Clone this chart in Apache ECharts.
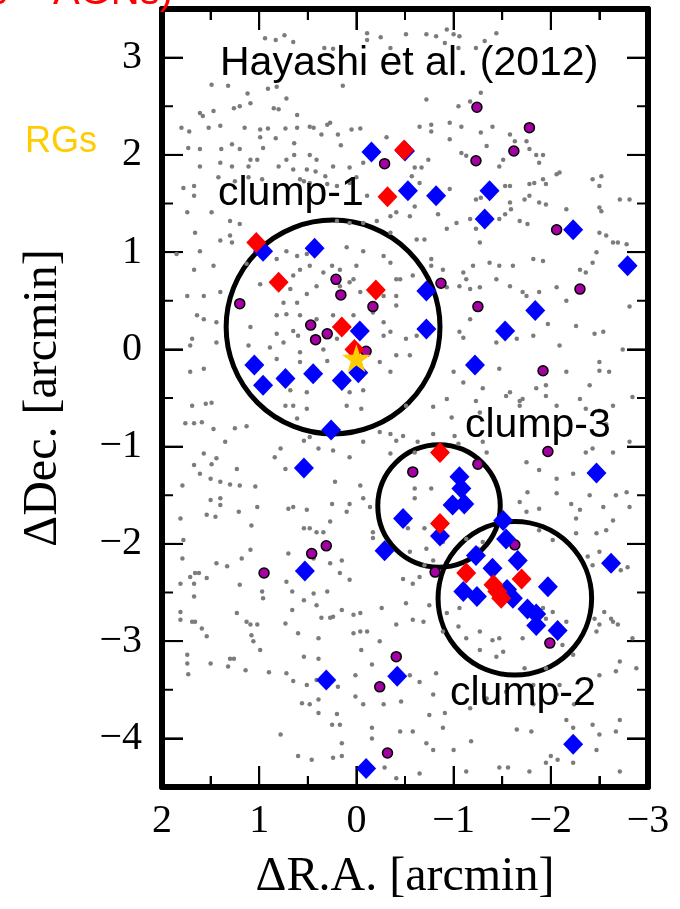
<!DOCTYPE html>
<html><head><meta charset="utf-8">
<script src="https://cdn.jsdelivr.net/npm/echarts@6/dist/echarts.min.js"></script>
<style>html,body{margin:0;padding:0;background:#fff}#c{width:680px;height:909px}</style>
</head><body><div id="c"></div>
<script>
// ---- data (arcmin) ----
const xTicks = [2, 1, 0, -1, -2, -3];
const xHalfTicks = [1.5, 0.5, -0.5, -1.5, -2.5];
const yTicks = [-4, -3, -2, -1, 0, 1, 2, 3];
const yHalfTicks = [-3.5, -2.5, -1.5, -0.5, 0.5, 1.5, 2.5];
const xRange = [-3, 2];
const yRange = [-4.5, 3.5];

const fieldGalaxies = [
[0.94,3.20],[0.83,3.18],[0.74,3.23],[0.65,3.16],[0.33,3.10],[0.24,3.09],[-0.11,3.25],[-0.11,3.18],[-0.25,3.21],[-0.35,3.10],
[1.49,2.72],[1.32,2.71],[1.12,2.63],[0.91,2.68],[0.82,2.70],[0.72,2.58],[0.14,2.71],[1.09,2.53],[1.20,2.50],[1.26,2.48],
[1.47,2.45],[1.61,2.43],[1.58,2.40],[0.85,2.48],[0.80,2.47],[0.61,2.41],[0.27,2.33],[0.30,2.31],[0.48,2.29],[0.44,2.28],
[1.80,2.28],[1.72,2.24],[1.52,2.28],[1.40,2.30],[1.15,2.28],[0.99,2.26],[0.91,2.27],[0.73,2.27],[0.61,2.28],[0.99,2.18],
[0.83,2.17],[0.64,2.12],[0.36,2.21],[0.05,2.26],[-0.04,2.27],[0.19,2.21],[-0.31,2.18],[1.73,2.07],[1.61,2.06],[1.39,2.06],
[1.28,2.11],[1.20,2.06],[0.96,2.07],[1.09,1.95],[1.02,1.95],[0.72,1.95],[0.64,2.00],[0.48,2.00],[0.41,1.95],[0.24,1.88],
[0.16,2.10],[1.61,1.88],[1.40,1.92],[1.28,1.88],[1.11,1.88],[0.80,1.88],[0.65,1.85],[0.51,1.85],[0.42,1.83],[0.32,1.78],
[0.07,1.87],[-0.07,1.92],[1.78,1.66],[1.67,1.68],[1.42,1.77],[1.25,1.73],[1.11,1.77],[0.97,1.75],[0.58,1.75],[0.54,1.73],
[0.48,1.71],[0.30,1.70],[0.20,1.68],[0.07,1.71],[0.00,1.77],[-0.11,1.58],[1.67,1.58],[1.74,1.41],[1.49,1.41],[1.30,1.32],
[1.20,1.29],[1.66,1.20],[1.40,1.12],[1.28,1.10],[0.20,1.32],[0.07,1.30],[-0.07,1.30],[-0.21,1.32],[-0.35,1.37],[-0.35,1.20],
[-0.41,1.41],[1.85,0.98],[1.61,1.01],[1.30,1.17],[0.72,1.01],[0.61,0.96],[0.51,0.98],[0.82,0.93],[0.10,1.05],[-0.07,1.01],
[-0.28,0.96],[1.67,0.82],[1.47,0.86],[1.13,0.88],[0.58,0.82],[0.48,0.86],[0.34,0.79],[0.25,0.86],[0.17,0.82],[0.00,0.86],
[-0.35,0.89],[0.65,0.76],[0.03,0.72],[-0.41,0.72],[1.74,0.55],[1.57,0.55],[1.40,0.59],[0.99,0.67],[0.68,0.62],[0.51,0.57],
[0.41,0.65],[0.17,0.65],[0.07,0.69],[-0.04,0.59],[-0.28,0.55],[-0.41,0.55],[0.75,0.48],[0.61,0.48],[1.64,0.35],[1.57,0.31],
[1.44,0.28],[1.09,0.23],[0.82,0.35],[0.72,0.36],[0.58,0.35],[0.82,0.16],[0.65,0.19],[0.60,0.14],[-0.28,0.28],[-0.35,0.18],
[0.41,0.31],[0.24,0.35],[0.03,0.35],[-0.17,0.38],[-0.41,0.45],[1.69,0.11],[1.71,0.04],[1.44,0.07],[1.11,0.04],[0.89,0.02],
[0.75,0.07],[0.58,-0.03],[0.34,0.00],[0.20,0.11],[-0.28,0.14],[-0.41,-0.06],[1.71,-0.23],[1.57,-0.20],[0.82,-0.10],[0.58,-0.13],
[0.30,-0.12],[-0.24,-0.13],[-0.35,-0.23],[-0.07,-0.42],[0.07,-0.44],[0.51,-0.44],[0.68,-0.42],
[-0.51,3.24],[-0.72,3.24],[-0.82,3.22],[-0.93,3.29],[-1.00,3.24],[-1.06,3.22],[-0.91,3.15],[-1.32,3.17],[-1.44,3.25],[-1.05,3.10],
[-1.23,3.10],[-0.72,2.57],[-1.05,2.50],[-1.17,2.55],[-1.28,2.64],[-0.65,2.29],[-0.77,2.31],[-0.77,2.24],[-0.96,2.33],[-1.08,2.29],
[-0.96,2.16],[-1.28,2.23],[-1.40,2.29],[-1.58,2.21],[-1.63,2.14],[-1.75,2.14],[-1.78,2.06],[-1.85,2.00],[-1.92,2.00],[-1.08,2.02],
[-1.13,1.99],[-1.34,2.09],[-0.60,1.87],[-0.67,1.87],[-0.74,1.95],[-1.51,1.95],[-1.47,1.88],[-1.88,1.92],[-2.06,1.80],[-2.09,1.82],
[-1.78,1.70],[-1.83,1.71],[-1.92,1.75],[-1.95,1.70],[-1.88,1.51],[-2.43,1.75],[-2.52,1.78],[-2.50,1.68],[-2.71,1.54],[-2.81,1.54],
[-0.57,1.78],[-0.65,1.71],[-0.96,1.65],[-1.53,1.68],[-1.58,1.68],[-1.23,1.54],[-1.28,1.56],[-1.58,1.51],[-1.59,1.44],[-1.47,1.34],
[-1.73,1.54],[-1.78,1.58],[-1.95,1.49],[-2.16,1.44],[-0.60,1.47],[-0.84,1.39],[-0.93,1.24],[-1.03,1.30],[-1.17,1.34],[-1.23,1.24],
[-1.53,1.39],[-1.68,1.32],[-1.76,1.29],[-1.27,1.10],[-0.70,1.13],[-0.62,1.13],[-0.55,1.37],[-2.50,1.46],[-2.52,1.42],[-2.50,1.20],
[-2.57,1.17],[-2.64,1.10],[-2.69,1.10],[-2.78,1.08],[-2.47,1.00],[-0.77,0.93],[-0.77,0.86],[-0.89,0.82],[-1.10,0.79],[-1.20,0.86],
[-1.37,0.89],[-1.47,0.86],[-1.61,0.86],[-1.82,0.93],[-1.92,0.91],[-2.30,0.82],[-2.36,0.79],[-2.43,0.89],[-0.45,0.72],[-0.58,0.76],
[-0.93,0.64],[-1.06,0.65],[-1.13,0.72],[-1.17,0.62],[-1.27,0.64],[-1.44,0.72],[-1.58,0.65],[-1.71,0.59],[-1.75,0.55],[-1.88,0.59],
[-2.06,0.64],[-1.85,0.41],[-2.16,0.50],[-2.81,0.44],[-0.62,0.14],[-0.51,0.11],[-1.06,0.18],[-1.10,0.12],[-1.17,0.31],[-1.44,0.07],
[-1.65,0.11],[-1.82,0.14],[-1.97,0.26],[-2.09,0.04],[-2.26,0.24],[-2.45,0.16],[-2.54,0.18],[-2.74,0.00],[-0.55,-0.06],[-1.00,-0.23],
[-1.10,-0.34],[-1.30,-0.40],[-1.47,-0.20],[-1.58,-0.44],[-1.85,-0.40],[-1.95,-0.37],[-2.16,-0.23],[-2.40,-0.37],[-2.50,-0.13],[-2.50,-0.22],
[-2.60,-0.23],
[1.69,-0.58],[1.55,-0.56],[1.49,-0.55],[1.76,-0.76],[1.67,-0.76],[1.59,-0.75],[1.47,-0.82],[1.35,-0.95],[1.25,-0.81],[1.13,-0.79],
[0.73,-0.58],[0.65,-0.58],[0.51,-0.61],[0.61,-0.71],[0.54,-0.94],[0.48,-0.90],[0.39,-1.02],[0.24,-1.04],[0.10,-0.58],[-0.05,-0.61],
[0.07,-1.11],[-0.07,-0.95],[-0.24,-0.85],[-0.35,-0.87],[-0.41,-0.94],[-0.35,-1.07],[1.57,-1.07],[1.49,-1.18],[1.44,-1.12],[1.67,-1.19],
[1.61,-1.28],[1.50,-1.33],[1.40,-1.36],[1.30,-1.39],[1.20,-1.40],[1.23,-1.23],[1.79,-1.40],[1.04,-1.41],[0.84,-1.11],[0.73,-1.23],
[0.78,-1.02],[0.22,-1.36],[-0.04,-1.40],[1.50,-1.55],[1.40,-1.53],[1.40,-1.60],[1.21,-1.67],[1.02,-1.62],[1.54,-1.70],[1.45,-1.72],
[1.81,-1.74],[1.78,-1.96],[0.70,-1.64],[0.65,-1.62],[0.51,-1.65],[0.25,-1.59],[0.07,-1.59],[0.10,-1.67],[-0.07,-1.53],[-0.14,-1.62],
[1.08,-1.81],[0.54,-1.84],[0.41,-1.88],[0.48,-1.84],[0.27,-1.77],[0.34,-1.88],[-0.17,-1.88],[-0.17,-1.94],[1.79,-2.15],[1.66,-2.30],
[1.71,-2.34],[1.62,-2.30],[1.54,-2.35],[1.81,-2.41],[1.67,-2.41],[1.44,-2.20],[1.33,-2.23],[1.09,-2.06],[1.18,-2.15],[0.97,-2.49],
[0.96,-2.56],[1.20,-2.42],[0.72,-2.39],[0.70,-2.10],[0.44,-2.15],[0.27,-2.20],[0.15,-2.17],[0.17,-2.30],[0.07,-2.37],[1.67,-2.54],
[0.66,-2.49],[0.54,-2.58],[0.44,-2.51],[0.30,-2.49],[0.41,-2.63],[0.66,-2.68],[0.36,-2.76],[0.27,-2.76],[0.24,-2.75],[0.15,-2.68],
[0.03,-2.73],[-0.04,-2.71],[-0.04,-2.90],[0.03,-2.92],[-0.11,-2.90],[-0.41,-2.83],[-0.26,-2.66],[1.81,-2.70],[1.81,-2.78],[1.69,-2.80],
[1.66,-2.80],[1.59,-2.87],[1.54,-2.95],[1.23,-2.71],[1.13,-2.80],[1.09,-2.83],[1.02,-2.83],[1.08,-2.94],[1.06,-3.00],[0.99,-3.09],
[0.73,-2.82],[0.60,-2.92],[0.39,-2.97],[1.26,-3.18],[1.30,-3.18],[1.50,-3.23],[1.74,-3.14],[1.74,-3.23],[1.73,-3.34],[1.32,-3.26],
[1.14,-3.30],[0.90,-3.32],[0.72,-3.33],[0.54,-3.16],[0.39,-3.18],[0.01,-3.35],[-0.05,-3.09],[-0.16,-3.24],[-0.24,-3.00],[0.51,-3.45],
[0.65,-3.41],[0.41,-3.40],[0.19,-3.47],[0.56,-3.64],[0.48,-3.65],[0.39,-3.60],[0.39,-3.74],[0.20,-3.75],[0.01,-3.57],[-0.07,-3.65],
[-0.28,-3.65],[0.25,-3.86],[0.17,-3.86],[0.15,-4.05],[-0.16,-3.89],[-0.16,-4.00],[-0.45,-3.93],[0.78,-3.96],[0.60,-4.18],[0.46,-4.22],
[0.24,-4.20],[0.15,-4.18],[-0.29,-4.30],[-0.41,-4.41],
[-0.51,-0.58],[-0.79,-0.59],[-0.93,-0.51],[-0.98,-0.70],[-1.23,-0.53],[-1.27,-0.65],[-1.54,-0.48],[-1.71,-0.51],[-0.48,-0.89],[-0.63,-0.95],
[-0.60,-1.06],[-0.79,-0.87],[-1.01,-0.89],[-1.05,-0.97],[-1.34,-1.06],[-1.30,-0.95],[-1.68,-0.58],[-1.68,-0.53],[-1.95,-0.48],[-2.06,-0.58],
[-2.30,-0.51],[-2.36,-0.61],[-2.50,-0.63],[-2.64,-0.58],[-2.84,-0.49],[-2.57,-0.77],[-2.36,-1.06],[-2.43,-1.02],[-2.64,-1.06],[-2.81,-0.95],
[-1.75,-1.16],[-1.88,-1.24],[-2.23,-1.28],[-2.06,-1.33],[-2.06,-1.48],[-1.76,-1.47],[-1.68,-1.57],[-1.75,-1.67],[-1.88,-1.64],[-2.21,-1.59],
[-2.30,-1.65],[-2.26,-1.74],[-2.40,-1.50],[-2.54,-1.62],[-2.67,-1.50],[-2.78,-1.47],[-2.81,-1.62],[-2.47,-1.89],[-2.26,-1.89],[-2.02,-1.96],
[-1.88,-1.86],[-2.38,-2.13],[-2.43,-2.22],[-2.72,-2.27],[-2.79,-2.24],[-2.57,-1.86],[-2.64,-1.76],[-2.50,-2.08],[-0.60,-1.43],[-0.77,-1.43],
[-0.60,-1.53],[-0.53,-1.84],[-0.70,-1.84],[-0.72,-2.05],[-0.55,-2.08],[-0.70,-2.22],[-0.79,-2.17],[-0.89,-1.98],[-1.13,-1.95],[-1.30,-1.98],
[-1.25,-2.05],[-1.40,-2.20],[-0.48,-2.36],[-0.58,-2.41],[-0.65,-2.34],[-0.51,-2.61],[-0.75,-2.63],[-0.58,-2.78],[-0.69,-2.80],[-0.93,-2.71],
[-1.06,-2.66],[-0.89,-2.90],[-1.05,-2.85],[-1.13,-2.97],[-1.27,-2.90],[-1.40,-2.99],[-1.47,-2.97],[-1.27,-3.09],[-1.44,-3.16],[-1.51,-3.11],
[-1.71,-2.97],[-1.82,-2.87],[-1.95,-2.77],[-1.92,-2.66],[-2.02,-2.70],[-2.16,-2.80],[-2.12,-3.04],[-2.23,-3.14],[-2.45,-2.77],[-2.50,-2.83],
[-2.47,-2.90],[-2.55,-2.70],[-2.62,-2.77],[-2.64,-2.80],[-2.69,-2.83],[-2.84,-2.97],[-2.50,-3.35],[-2.67,-3.31],[-2.71,-3.21],[-2.88,-3.28],
[-0.65,-3.42],[-0.79,-3.55],[-0.55,-3.35],[-0.82,-3.33],[-0.46,-3.62],[-0.75,-3.76],[-0.91,-3.74],[-1.17,-3.69],[-1.34,-3.59],[-1.54,-3.52],
[-1.73,-3.28],[-1.82,-3.45],[-1.95,-3.28],[-2.09,-3.45],[-0.58,-3.93],[-0.89,-3.89],[-0.72,-4.05],[-1.00,-4.12],[-1.18,-4.03],[-1.65,-3.91],
[-1.80,-3.93],[-1.82,-3.65],[-2.06,-3.55],[-2.16,-3.81],[-2.23,-3.89],[-2.24,-3.65],[-2.43,-3.86],[-2.47,-4.12],[-2.50,-3.96],[-2.67,-3.93],
[-2.71,-3.81],[-2.71,-4.34],[-2.23,-4.25],[-2.07,-4.22],[-2.00,-4.18],[-1.95,-4.25],[-1.78,-4.34],[-1.47,-4.30],[-1.56,-4.30],[-1.13,-4.34],
[-0.65,-4.36],[-0.79,-4.12]
];

const blueDiamonds = [
[-0.155,2.03],[-0.50,2.04],[-0.53,1.63],[-0.82,1.58],[-1.37,1.63],[-1.32,1.34],[-2.23,1.23],[-2.79,0.86],[-1.84,0.40],[-1.53,0.19],
[-1.22,-0.16],[-0.72,0.60],[-0.72,0.21],[0.43,1.04],[0.96,1.01],[-0.035,0.19],[-0.02,-0.24],[1.05,-0.16],[0.96,-0.37],[0.73,-0.30],
[0.445,-0.25],[0.15,-0.32],[0.26,-0.83],[0.54,-1.22],[-0.48,-1.74],[-0.29,-2.07],[0.53,-2.28],[0.31,-3.40],[-0.42,-3.36],[-0.10,-4.31],
[-2.23,-4.06],[-1.06,-1.31],[-1.08,-1.43],[-0.99,-1.60],[-1.11,-1.59],[-0.86,-1.92],[-1.51,-1.76],[-1.54,-1.95],[-1.23,-2.12],[-1.40,-2.25],
[-1.66,-2.17],[-1.10,-2.49],[-1.24,-2.54],[-1.61,-2.56],[-1.97,-2.44],[-1.76,-2.67],[-1.85,-2.84],[-2.07,-2.89],[-2.62,-2.20],[-2.47,-1.27],
[-1.85,-2.72],[-1.55,-2.47]
];

const redDiamonds = [
[1.03,1.10],[0.80,0.69],[-0.32,1.57],[-0.49,2.05],[-0.20,0.61],[0.15,0.23],[0.02,0.00],[-0.86,-1.06],[-0.86,-1.79],[-1.13,-2.30],
[-1.41,-2.42],[-1.49,-2.56],[-1.70,-2.36],[-1.45,-2.49]
];

const purpleCircles = [
[-0.29,1.91],[0.21,0.72],[0.16,0.56],[1.20,0.47],[-0.17,0.44],[0.47,0.25],[0.30,0.16],[0.42,0.10],[-0.10,-0.02],[-1.24,2.49],
[-1.78,2.28],[-1.62,2.04],[-1.23,1.94],[-2.06,1.23],[-0.87,0.68],[-2.30,0.62],[-1.25,0.44],[-1.92,-0.22],[0.31,-2.02],[0.46,-2.10],
[0.95,-2.30],[-0.41,-3.16],[-0.24,-3.47],[-0.32,-4.15],[-0.58,-1.26],[-1.25,-1.18],[-1.97,-1.05],[-1.63,-2.01],[-0.81,-2.29],[-1.99,-3.02]
];

const radioGalaxy = [[0.0, -0.09]];

// clumps: [centre RA, centre Dec, radius]
const clumps = [[0.24, 0.23, 1.10], [-0.85, -1.61, 0.63], [-1.63, -2.56, 0.79]];

const fmt = v => String(v).replace('-', '\u2212');
const serif = 'Liberation Serif';

// tick tables built from the tick arrays: [value, isMajor]
const xTickData = xTicks.map(v => [v, 1]).concat(xHalfTicks.map(v => [v, 0]));
const yTickData = yTicks.map(v => [v, 1]).concat(yHalfTicks.map(v => [v, 0]));

function xAx(pos, labels) {
  return {
    type: 'value', min: xRange[0], max: xRange[1], interval: 1, inverse: true, position: pos,
    axisLine: {show: true, onZero: false, lineStyle: {color: '#000', width: 6}},
    splitLine: {show: false},
    axisTick: {show: true, inside: true, length: 21, lineStyle: {color: '#000', width: 2}},
    minorTick: {show: true, splitNumber: 2, length: 11, lineStyle: {color: '#000', width: 2}},
    axisLabel: labels ? {show: true, formatter: fmt, fontFamily: serif, fontSize: 40, color: '#000', margin: 14} : {show: false},
    name: labels ? '\u0394R.A. [arcmin]' : null, nameLocation: 'middle', nameGap: 66,
    nameTextStyle: {fontFamily: serif, fontSize: 48, color: '#000'}
  };
}
function yAx(pos, labels) {
  return {
    type: 'value', min: yRange[0], max: yRange[1], position: pos,
    axisLine: {show: true, onZero: false, lineStyle: {color: '#000', width: 6}},
    splitLine: {show: false},
    axisTick: {show: true, inside: true, length: 21, lineStyle: {color: '#000', width: 2}, customValues: yTicks},
    axisLabel: labels ? {show: true, customValues: yTicks, formatter: fmt, fontFamily: serif, fontSize: 40, color: '#000', margin: 20} : {show: false},
    name: labels ? '\u0394Dec. [arcmin]' : null, nameLocation: 'middle', nameGap: 95, nameRotate: 90,
    nameTextStyle: {fontFamily: serif, fontSize: 48, color: '#000'}
  };
}

// one custom series per frame side; each tick is a single line element
function tickSeries(data, side) {
  return {
    type: 'custom', coordinateSystem: 'cartesian2d', xAxisIndex: 0, yAxisIndex: 0,
    data: data, clip: false,
    renderItem: function (params, api) {
      const v = api.value(0);
      const len = api.value(1) > 0.5 ? 21 : 11;
      let p, x2, y2;
      if (side === 'bottom') { p = api.coord([v, yRange[0]]); x2 = p[0]; y2 = p[1] - len; }
      else if (side === 'top') { p = api.coord([v, yRange[1]]); x2 = p[0]; y2 = p[1] + len; }
      else if (side === 'left') { p = api.coord([xRange[1], v]); x2 = p[0] + len; y2 = p[1]; }
      else { p = api.coord([xRange[0], v]); x2 = p[0] - len; y2 = p[1]; }
      return {type: 'line', shape: {x1: p[0], y1: p[1], x2: x2, y2: y2}, style: {stroke: '#000', lineWidth: 2, fill: null}};
    }
  };
}

const chart = echarts.init(document.getElementById('c'));
chart.setOption({
  animation: false,
  grid: {left: 162, right: 32, top: 9, bottom: 122},
  xAxis: [xAx('bottom', true), xAx('top', false)],
  yAxis: [yAx('left', true), yAx('right', false)],
  series: [
    tickSeries(xTickData, 'bottom'),
    tickSeries(xTickData, 'top'),
    tickSeries(yTickData, 'left'),
    tickSeries(yTickData, 'right'),
    {type: 'scatter', data: fieldGalaxies, symbol: 'circle', symbolSize: 4.5, itemStyle: {color: '#7c7c7c', opacity: 1}, silent: true},
    {type: 'scatter', data: purpleCircles, symbol: 'circle', symbolSize: 10, itemStyle: {color: '#a400a4', borderColor: '#000', borderWidth: 1.5, opacity: 1}},
    {type: 'scatter', data: blueDiamonds, symbol: 'diamond', symbolSize: [20, 21], itemStyle: {color: '#0000ff', opacity: 1}},
    {type: 'scatter', data: redDiamonds, symbol: 'diamond', symbolSize: [20, 21], itemStyle: {color: '#ff0000', opacity: 1}},
    {type: 'scatter', data: radioGalaxy, symbol: 'path://M50,0 L61.2,34.5 L97.6,34.5 L68.2,55.9 L79.4,90.5 L50,69.1 L20.6,90.5 L31.8,55.9 L2.4,34.5 L38.8,34.5 Z', symbolSize: [29, 28], itemStyle: {color: '#ffcc00', opacity: 1}},
    {type: 'custom', data: clumps, clip: false,
      encode: {x: 0, y: 1},
      renderItem: function (params, api) {
        const c = api.coord([api.value(0), api.value(1)]);
        const s = api.size([api.value(2), api.value(2)], [api.value(0), api.value(1)]);
        return {type: 'circle', shape: {cx: c[0], cy: c[1], r: s[0]}, style: {fill: null, stroke: '#000', lineWidth: 5}};
      }}
  ],
  graphic: [
    {type: 'text', x: 220, y: 64, z: 100, style: {text: 'Hayashi et al. (2012)', font: '41px "Liberation Sans"', fill: '#000', textVerticalAlign: 'middle'}},
    {type: 'text', x: 218, y: 194, z: 100, style: {text: 'clump-1', font: '41px "Liberation Sans"', fill: '#000', textVerticalAlign: 'middle'}},
    {type: 'text', x: 465, y: 426, z: 100, style: {text: 'clump-3', font: '41px "Liberation Sans"', fill: '#000', textVerticalAlign: 'middle'}},
    {type: 'text', x: 450, y: 694, z: 100, style: {text: 'clump-2', font: '41px "Liberation Sans"', fill: '#000', textVerticalAlign: 'middle'}},
    {type: 'text', x: 25, y: 142, z: 100, style: {text: 'RGs', font: '36px "Liberation Sans"', fill: '#ffcc00', textVerticalAlign: 'middle'}},
    {type: 'text', x: 173, y: -7, z: 100, style: {text: '(HAEs + AGNs)', font: '40px "Liberation Sans"', fill: '#ff0000', textAlign: 'right', textVerticalAlign: 'middle'}}
  ]
});
</script></body></html>
